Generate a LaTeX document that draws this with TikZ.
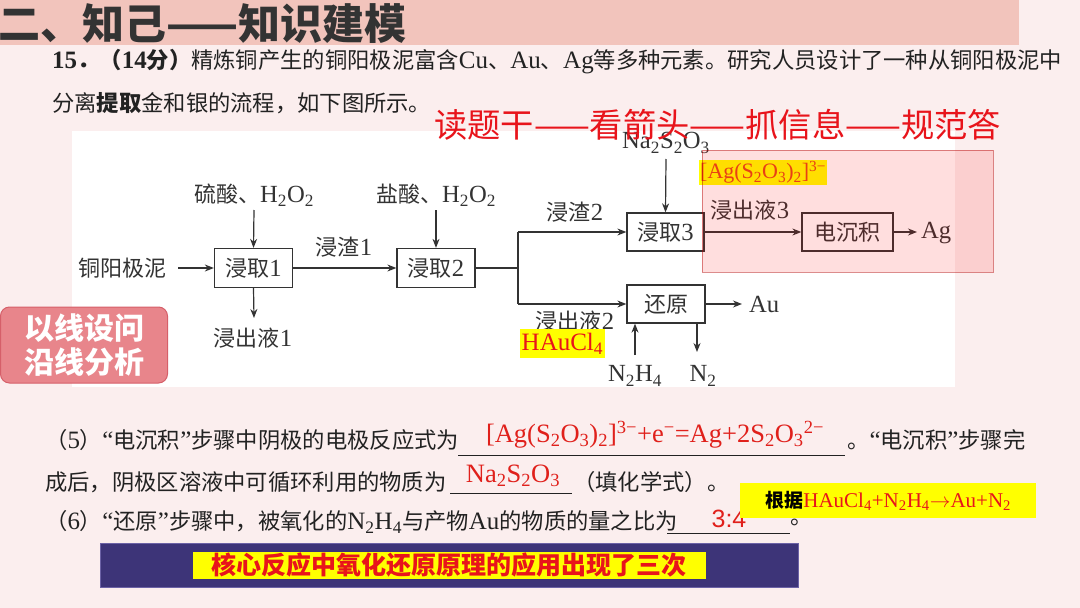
\documentclass[tikz,border=0pt]{standalone}
\usepackage{fontspec}
\setmainfont{Liberation Serif}
\newfontfamily\cjk{Noto Sans CJK SC}
\newfontfamily\tmf{Liberation Serif}[Scale=1.12]
\newfontfamily\asans{Liberation Sans}
\usetikzlibrary{arrows.meta}
\definecolor{bg}{HTML}{FBEEEE}
\definecolor{band}{HTML}{F2C4BC}
\definecolor{ttl}{HTML}{333333}
\definecolor{ink}{HTML}{222222}
\definecolor{fl}{HTML}{333333}
\definecolor{redt}{HTML}{E8141B}
\definecolor{ansred}{HTML}{E0201B}
\definecolor{orgred}{HTML}{E64A19}
\definecolor{hy}{HTML}{FFFF00}
\definecolor{callfill}{HTML}{E8858B}
\definecolor{callline}{HTML}{D65F69}
\definecolor{navy}{HTML}{3D3478}
\definecolor{navyline}{HTML}{6C62A6}
\newcommand\tm[1]{{\tmf #1}}
\newcommand\ssub[1]{\textsubscript{#1}}
\newcommand\ssup[1]{\textsuperscript{#1}}
\tikzset{
  body/.style={inner sep=0pt, text=ink, font=\cjk\fontsize{22.3}{26}\selectfont},
  flab/.style={inner sep=0pt, text=fl, font=\cjk\fontsize{22}{24}\selectfont},
  fbox/.style={draw=fl, line width=1.3pt, fill=white, minimum height=39pt, inner sep=0pt, text=fl, font=\cjk\fontsize{22}{24}\selectfont},
  farrow/.style={draw=fl, line width=1.2pt, -{Stealth[length=9pt,width=7pt]}},
  fline/.style={draw=fl, line width=1.2pt},
  ans/.style={inner sep=0pt, text=ansred, font=\rmfamily\fontsize{26.5}{28}\selectfont},
  uline/.style={draw=ink, line width=0.9pt},
  hl/.style={fill=hy, inner sep=1.5pt},
}
\begin{document}
\begin{tikzpicture}[x=1pt,y=-1pt]
\useasboundingbox (0,0) rectangle (1080,608);
\fill[bg] (0,0) rectangle (1080,608);
\fill[band] (0,0) rectangle (1019,45);
\node[anchor=west, inner sep=0pt, text=ttl, font=\cjk\bfseries\fontsize{42}{42}\selectfont] (title) at (-2,24) {二、知己——知识建模};

% question text
\node[body, anchor=west] (q1) at (52,62) {{\bfseries\tm{15}．（\tm{14}分）}精炼铜产生的铜阳极泥富含\tm{Cu}、\tm{Au}、\tm{Ag}等多种元素。研究人员设计了一种从铜阳极泥中};
\node[body, anchor=west] (q2) at (52,103) {分离{\bfseries 提取}金和银的流程，如下图所示。};

% flowchart area
\fill[white] (72,131) rectangle (955,387);

\node[fbox, minimum width=78pt] (b1) at (253.5,268) {浸取\tm{1}};
\node[fbox, minimum width=78pt] (b2) at (436,268) {浸取\tm{2}};
\node[fbox, minimum width=77pt, minimum height=38pt] (b3) at (665.5,232) {浸取\tm{3}};
\node[fbox, minimum width=91pt, minimum height=38pt] (b4) at (847.5,232) {电沉积};
\node[fbox, minimum width=78pt, minimum height=38pt] (b5) at (666,304) {还原};

\node[flab] (src) at (122,268) {铜阳极泥};
\coordinate (srcE) at (178,268);
\node[flab] (r1) at (254,195) {硫酸、\tm{H\ssub{2}O\ssub{2}}};
\coordinate (r1S) at (254,210);
\node[flab] (o1) at (253,338) {浸出液\tm{1}};
\coordinate (o1N) at (254,318);
\node[flab] (s1) at (344,247) {浸渣\tm{1}};
\node[flab] (r2) at (436,195) {盐酸、\tm{H\ssub{2}O\ssub{2}}};
\coordinate (r2S) at (436,210);
\coordinate (jn) at (518,268);
\coordinate (jt) at (518,232);
\coordinate (jb) at (518,304);
\node[flab] (s2) at (575,212) {浸渣\tm{2}};
\node[flab] (na) at (666,143) {\tm{Na\ssub{2}S\ssub{2}O\ssub{3}}};
\coordinate (naS) at (666,159);
\node[flab] (o3) at (750,210) {浸出液\tm{3}};
\node[flab, anchor=west] (ag) at (921,233) {\tm{Ag}};
\coordinate (agW) at (917,232);
\node[flab, anchor=west] (au) at (749,304) {\tm{Au}};
\coordinate (auW) at (742,304);
\node[flab] (o2) at (575,321) {浸出液\tm{2}};
\node[flab] (nh) at (635,376) {\tm{N\ssub{2}H\ssub{4}}};
\coordinate (nhN) at (635,355);
\node[flab] (n2) at (703,376) {\tm{N\ssub{2}}};
\coordinate (n2a) at (697,323);
\coordinate (n2b) at (697,352);

\draw[farrow] (srcE) -- (b1.west);
\draw[farrow] (r1S) -- (b1.north);
\draw[farrow] (b1.south) -- (o1N);
\draw[farrow] (b1.east) -- (b2.west);
\draw[farrow] (r2S) -- (b2.north);
\draw[fline] (b2.east) -- (jn);
\draw[fline] (jt) -- (jb);
\draw[farrow] (jt) -- (b3.west);
\draw[farrow] (jb) -- (b5.west);
\draw[farrow] (naS) -- (b3.north);
\draw[farrow] (b3.east) -- (b4.west);
\draw[farrow] (b4.east) -- (agW);
\draw[farrow] (b5.east) -- (auW);
\draw[farrow] (nhN) -- (nhN |- b5.south);
\draw[farrow] (n2a) -- (n2b);

% slogan (drawn over the flowchart area)
\node[anchor=west, inner sep=0pt, text=redt, font=\cjk\fontsize{33.3}{35}\selectfont] (slogan) at (434,125) {读题干——看箭头——抓信息——规范答};

% highlights
\node[hl, anchor=west, text=orgred, font=\rmfamily\fontsize{22}{22}\selectfont, minimum height=25pt, inner xsep=1pt] (agc) at (699,172.5) {[Ag(S\ssub{2}O\ssub{3})\ssub{2}]\ssup{3−}};
\node[hl, anchor=west, text=redt, font=\rmfamily\fontsize{25}{26}\selectfont, minimum height=29pt, inner xsep=1.5pt] (hau) at (520,343.5) {HAuCl\ssub{4}};

% red translucent region
\draw[draw=red!70!black, draw opacity=0.45, fill=red, fill opacity=0.13, line width=1pt] (702,150) rectangle (993,272);

% callout
\node[draw=callline, line width=1pt, fill=callfill, rounded corners=9pt, minimum width=167pt, minimum height=76pt, inner sep=0pt, align=center, text=white, font=\cjk\bfseries\fontsize{30}{34}\selectfont] (call) at (84,345) {以线设问\\沿线分析};

% part 5
\node[body, anchor=west] (p5a) at (45,440) {（\tm{5}）\tm{“}电沉积\tm{”}步骤中阴极的电极反应式为};
\coordinate (u5a) at (458,455);
\coordinate (u5b) at (845,455);
\draw[uline] (u5a) -- (u5b);
\node[ans] (a5) at (655,435) {[Ag(S\ssub{2}O\ssub{3})\ssub{2}]\ssup{3−}+e\ssup{−}=Ag+2S\ssub{2}O\ssub{3}\ssup{2−}};
\node[body, anchor=west] (p5b) at (847,440) {。\tm{“}电沉积\tm{”}步骤完};
\node[body, anchor=west] (p5c) at (45,482) {成后，阴极区溶液中可循环利用的物质为};
\coordinate (u6a) at (450,493);
\coordinate (u6b) at (572,493);
\draw[uline] (u6a) -- (u6b);
\node[ans] (a6) at (513,476) {Na\ssub{2}S\ssub{2}O\ssub{3}};
\node[body, anchor=west] (p5d) at (573,482) {（填化学式）。};

% part 6
\node[body, anchor=west] (p6a) at (45,522) {（\tm{6}）\tm{“}还原\tm{”}步骤中，被氧化的\tm{N\ssub{2}H\ssub{4}}与产物\tm{Au}的物质的量之比为};
\coordinate (u7a) at (667,533);
\coordinate (u7b) at (790,533);
\draw[uline] (u7a) -- (u7b);
\node[inner sep=0pt, text=ansred, font=\asans\fontsize{25}{26}\selectfont] (a7) at (729,519) {3:4};
\node[body, anchor=west] (p6b) at (790,522) {。};

% yellow note
\node[hl, anchor=west, minimum height=35pt, minimum width=296pt, inner xsep=8pt, text=redt, font=\rmfamily\fontsize{21}{22}\selectfont] (note) at (740,500.5) {{\cjk\bfseries\color{black}\fontsize{19}{20}\selectfont 根据}HAuCl\ssub{4}+N\ssub{2}H\ssub{4}$\rightarrow$Au+N\ssub{2}\hfill};

% bottom banner
\draw[draw=navyline, fill=navy, line width=1pt] (100,543) rectangle (798,587);
\node[fill=hy, minimum width=513pt, minimum height=27pt, inner sep=0pt, text=redt, font=\cjk\bfseries\fontsize{25}{26}\selectfont] (core) at (449,565) {核心反应中氧化还原原理的应用出现了三次};
\end{tikzpicture}
\end{document}
